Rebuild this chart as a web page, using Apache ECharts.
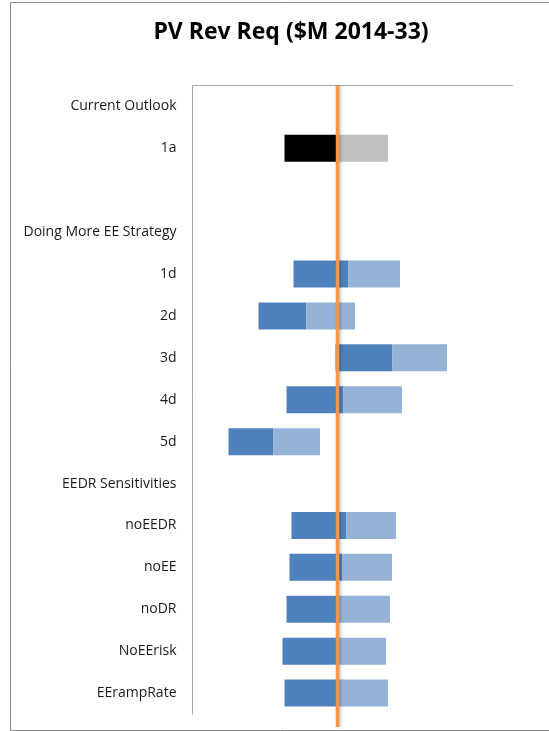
<!DOCTYPE html>
<html>
<head>
<meta charset="utf-8">
<script src="https://cdn.jsdelivr.net/npm/echarts@6/dist/echarts.min.js"></script>
<style>
html,body{margin:0;padding:0;background:#fff;}
#chart{width:549px;height:731px;}
</style>
</head>
<body>
<div id="chart"></div>
<script>
// Categories (top to bottom); blank entries are section headers / spacers
var categories = ['Current Outlook', '1a', '', 'Doing More EE Strategy', '1d', '2d', '3d', '4d', '5d',
  'EEDR Sensitivities', 'noEEDR', 'noEE', 'noDR', 'NoEErisk', 'EErampRate'];
// Range values (arbitrary units); null = no bar
var lowValues  = [null, 92, null, null, 101, 66, 143, 94, 36, null, 99, 97, 94, 90, 92];
var midValues  = [null, 145, null, null, 156, 114, 200, 151, 81, null, 154, 150, 146, 144, 145];
var highValues = [null, 195.5, null, null, 207.5, 162.5, 254.5, 209.5, 127.5, null, 203.5, 199.5, 197.5, 193.5, 195.5];
var referenceValue = 145;
var axisMin = 0, axisMax = 320;

var baseColorsDark = categories.map(function (c) { return c === '1a' ? '#000000' : '#4F81BD'; });
var baseColorsLight = categories.map(function (c) { return c === '1a' ? '#BFBFBF' : '#95B3D7'; });

var baseData = lowValues.map(function (v) { return v; });
var darkData = lowValues.map(function (v, i) {
  if (v === null) return null;
  return { value: midValues[i] - v, itemStyle: { color: baseColorsDark[i] } };
});
var lightData = lowValues.map(function (v, i) {
  if (v === null) return null;
  return { value: highValues[i] - midValues[i], itemStyle: { color: baseColorsLight[i] } };
});

var FONT = 'Open Sans';
var chart = echarts.init(document.getElementById('chart'), null, { renderer: 'canvas' });
chart.setOption({
  animation: false,
  backgroundColor: '#ffffff',
  title: {
    text: 'PV Rev Req ($M 2014-33)',
    left: 286, top: 16, textAlign: 'center',
    textStyle: { fontFamily: FONT, fontSize: 23, fontWeight: 'bold', color: '#000' }
  },
  graphic: [{
    type: 'polyline', silent: true,
    shape: { points: [[600, 2.5], [10.5, 2.5], [10.5, 730.5], [600, 730.5]] },
    style: { fill: null, stroke: '#8c8c8c', lineWidth: 1 }
  }],
  grid: [
    { left: 192.5, top: 85.5, width: 320, height: 628.5, containLabel: false },
    { left: 192.5, top: 85.5, width: 320, height: 641.5, containLabel: false }
  ],
  xAxis: [
    { type: 'value', gridIndex: 0, position: 'top', min: axisMin, max: axisMax,
      axisLine: { show: true, lineStyle: { color: '#A6A6A6', width: 1 } },
      axisTick: { show: false }, axisLabel: { show: false }, splitLine: { show: false } },
    { type: 'value', gridIndex: 1, min: axisMin, max: axisMax, show: false }
  ],
  yAxis: [
    { type: 'category', gridIndex: 0, data: categories, inverse: true,
      axisLine: { show: true, lineStyle: { color: '#A6A6A6', width: 1 } },
      axisTick: { show: false }, splitLine: { show: false },
      axisLabel: { fontFamily: FONT, fontSize: 14, color: '#1a1a1a', margin: 16, padding: [2, 0, 0, 0] } },
    { type: 'value', gridIndex: 1, min: 0, max: 1, show: false }
  ],
  series: [
    { type: 'bar', stack: 'r', data: baseData, barWidth: 27,
      itemStyle: { color: 'rgba(0,0,0,0)' }, silent: true },
    { type: 'bar', stack: 'r', data: darkData, barWidth: 27 },
    { type: 'bar', stack: 'r', data: lightData, barWidth: 27 },
    { type: 'line', xAxisIndex: 1, yAxisIndex: 1,
      data: [[referenceValue, 0], [referenceValue, 1]], symbol: 'none',
      lineStyle: { color: '#F79646', width: 3.5, shadowColor: 'rgba(0,0,0,0.25)', shadowBlur: 3, shadowOffsetX: 1.5 },
      z: 5 }
  ]
});
</script>
</body>
</html>
